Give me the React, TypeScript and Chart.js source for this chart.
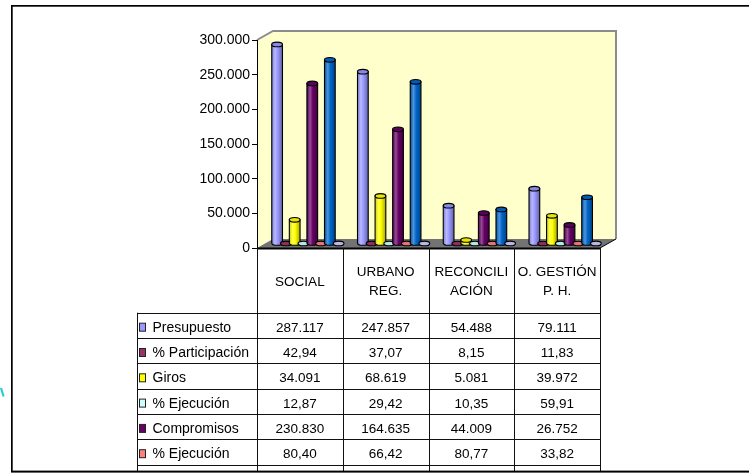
import React, { useEffect, useRef } from 'react';
import { Chart, registerables } from 'chart.js';

Chart.register(...registerables);

// Categories (multi-line header labels of the data table)
const categories: string[][] = [['SOCIAL'], ['URBANO', 'REG.'], ['RECONCILI', 'ACIÓN'], ['O. GESTIÓN', 'P. H.']];

// Series values per category
const presupuesto = [287117, 247857, 54488, 79111];
const participacion = [42.94, 37.07, 8.15, 11.83];
const giros = [34091, 68619, 5081, 39972];
const ejecucionGiros = [12.87, 29.42, 10.35, 59.91];
const compromisos = [230830, 164635, 44009, 26752];
const ejecucionCompromisos = [80.4, 66.42, 80.77, 33.82];
const totalEjecutado = [264921, 233254, 49090, 66724];
const ejecucionTotal = [92.27, 94.11, 90.09, 84.34];

const seriesNames = ['Presupuesto', '% Participación', 'Giros', '% Ejecución', 'Compromisos', '% Ejecución', 'Total Ejecutado', '% Ejecución'];
const seriesValues = [presupuesto, participacion, giros, ejecucionGiros, compromisos, ejecucionCompromisos, totalEjecutado, ejecucionTotal];
const seriesColors = ['#9999FF', '#993366', '#FFFF00', '#CCFFFF', '#660066', '#FF8080', '#0066CC', '#CCCCFF'];
const seriesIsPercent = [false, true, false, true, false, true, false, true];

// Value axis
const yMin = 0;
const yMax = 300000;
const yStep = 50000;

const FONT_FAMILY = 'Arial, "Liberation Sans", sans-serif';
const FONT_SIZE = 13.5;
const FONT = `${FONT_SIZE}px ${FONT_FAMILY}`;
const LABEL_FONT = `14px ${FONT_FAMILY}`;

// 3D depth of the plot box
const DX = 16;
const DY = 9;

const fmtThousands = (v: number) => String(Math.round(v)).replace(/\B(?=(\d{3})+(?!\d))/g, '.');
const fmtPercent = (v: number) => v.toFixed(2).replace('.', ',');

function mix(hex: string, amount: number): string {
  const n = parseInt(hex.slice(1), 16);
  let r = (n >> 16) & 255, g = (n >> 8) & 255, b = n & 255;
  const t = amount > 0 ? 255 : 0;
  const p = Math.abs(amount);
  r = Math.round(r + (t - r) * p);
  g = Math.round(g + (t - g) * p);
  b = Math.round(b + (t - b) * p);
  return `rgb(${r},${g},${b})`;
}

function drawCylinder(ctx: CanvasRenderingContext2D, cx: number, top: number, bottom: number, w: number, color: string) {
  const rx = w / 2;
  const ry = 2.3;
  const left = cx - rx;
  const right = cx + rx;
  ctx.lineWidth = 1.1;
  ctx.strokeStyle = '#000';
  if (bottom - top > 0.6) {
    const g = ctx.createLinearGradient(left, 0, right, 0);
    g.addColorStop(0, mix(color, -0.2));
    g.addColorStop(0.3, mix(color, 0.3));
    g.addColorStop(0.55, color);
    g.addColorStop(1, mix(color, -0.35));
    ctx.beginPath();
    ctx.moveTo(left, top);
    ctx.lineTo(left, bottom);
    ctx.ellipse(cx, bottom, rx, ry, 0, Math.PI, 0, true);
    ctx.lineTo(right, top);
    ctx.closePath();
    ctx.fillStyle = g;
    ctx.fill();
    ctx.stroke();
  }
  ctx.beginPath();
  ctx.ellipse(cx, top, rx, ry, 0, 0, Math.PI * 2);
  ctx.fillStyle = mix(color, -0.1);
  ctx.fill();
  ctx.stroke();
}

const plot3dPlugin = {
  id: 'plot3d',
  beforeDraw(chart: any) {
    const { ctx, chartArea: a } = chart;
    ctx.save();
    ctx.fillStyle = '#fff';
    ctx.fillRect(0, 0, chart.width, chart.height);

    // back wall
    ctx.fillStyle = '#FFFFCC';
    ctx.fillRect(a.left + DX, a.top - DY, a.right - a.left, a.bottom - a.top);
    // side wall
    ctx.beginPath();
    ctx.moveTo(a.left, a.top);
    ctx.lineTo(a.left + DX, a.top - DY);
    ctx.lineTo(a.left + DX, a.bottom - DY);
    ctx.lineTo(a.left, a.bottom);
    ctx.closePath();
    ctx.fill();
    // wall border
    ctx.strokeStyle = '#8c8c8c';
    ctx.lineWidth = 2;
    ctx.beginPath();
    ctx.moveTo(a.left, a.top);
    ctx.lineTo(a.left + DX, a.top - DY);
    ctx.lineTo(a.right + DX, a.top - DY);
    ctx.lineTo(a.right + DX, a.bottom - DY);
    ctx.stroke();

    // floor
    ctx.fillStyle = '#737373';
    ctx.beginPath();
    ctx.moveTo(a.left, a.bottom);
    ctx.lineTo(a.right, a.bottom);
    ctx.lineTo(a.right + DX, a.bottom - DY);
    ctx.lineTo(a.left + DX, a.bottom - DY);
    ctx.closePath();
    ctx.fill();
    ctx.strokeStyle = '#000';
    ctx.lineWidth = 1;
    ctx.beginPath();
    ctx.moveTo(a.right, a.bottom);
    ctx.lineTo(a.right + DX, a.bottom - DY);
    ctx.stroke();
    ctx.restore();
  },
  beforeDatasetsDraw(chart: any) {
    const ctx = chart.ctx as CanvasRenderingContext2D;
    ctx.save();
    chart.data.datasets.forEach((ds: any, i: number) => {
      const meta = chart.getDatasetMeta(i);
      meta.data.forEach((bar: any) => {
        const { x, y, base, width } = bar.getProps(['x', 'y', 'base', 'width'], true);
        drawCylinder(ctx, x + DX / 2, y - DY / 2, base - DY / 2, width * 1.22, ds.backgroundColor);
      });
    });
    ctx.restore();
    return false;
  },
  afterDraw(chart: any) {
    const { ctx, chartArea: a } = chart;
    const xs = chart.scales.x;
    const n = categories.length;
    const catW = (a.right - a.left) / n;
    const bounds: number[] = [];
    for (let i = 0; i < n; i++) bounds.push(xs.getPixelForValue(i) - catW / 2);
    bounds.push(a.right);

    const clipBottom = 471;
    const headerTop = a.bottom;
    const headerBottom = headerTop + 64.7;
    const rowH = 25.3;
    const labelLeft = 137;

    ctx.save();
    ctx.beginPath();
    ctx.rect(0, 0, chart.width, clipBottom);
    ctx.clip();

    // floor front edge
    ctx.strokeStyle = '#000';
    ctx.lineWidth = 2;
    ctx.beginPath();
    ctx.moveTo(a.left, a.bottom + 0.5);
    ctx.lineTo(a.right, a.bottom + 0.5);
    ctx.stroke();

    // grid of the data table
    ctx.lineWidth = 1;
    ctx.strokeStyle = '#111';
    ctx.beginPath();
    bounds.forEach((bx) => {
      const px = Math.round(bx) + 0.5;
      ctx.moveTo(px, headerTop);
      ctx.lineTo(px, clipBottom);
    });
    ctx.moveTo(labelLeft + 0.5, headerBottom);
    ctx.lineTo(labelLeft + 0.5, clipBottom);
    for (let k = 0; k <= seriesNames.length; k++) {
      const py = Math.round(headerBottom + k * rowH) + 0.5;
      ctx.moveTo(labelLeft, py);
      ctx.lineTo(Math.round(a.right) + 1, py);
    }
    ctx.stroke();

    ctx.fillStyle = '#000';
    ctx.font = FONT;
    ctx.textBaseline = 'alphabetic';
    ctx.textAlign = 'center';

    // category headers
    const headerMid = (headerTop + headerBottom) / 2;
    const lineGap = 19.8;
    categories.forEach((lines, i) => {
      const cx = (bounds[i] + bounds[i + 1]) / 2;
      lines.forEach((line, j) => {
        const cy = headerMid + (j - (lines.length - 1) / 2) * lineGap;
        ctx.fillText(line, cx, cy + 5.2);
      });
    });

    // rows: legend key + values
    seriesNames.forEach((name, r) => {
      const top = headerBottom + r * rowH;
      const baseline = top + 18.9;
      ctx.fillStyle = seriesColors[r];
      ctx.fillRect(139.5, top + 10.5, 6, 8);
      ctx.strokeStyle = '#222';
      ctx.lineWidth = 1;
      ctx.strokeRect(139.5, top + 10.5, 6, 8);
      ctx.fillStyle = '#000';
      ctx.font = LABEL_FONT;
      ctx.textAlign = 'left';
      ctx.fillText(name, 152.5, baseline);
      ctx.font = FONT;
      ctx.textAlign = 'center';
      seriesValues[r].forEach((v, i) => {
        const cx = (bounds[i] + bounds[i + 1]) / 2;
        ctx.fillText(seriesIsPercent[r] ? fmtPercent(v) : fmtThousands(v), cx, baseline);
      });
    });
    ctx.restore();

    // outer frame
    ctx.save();
    ctx.fillStyle = '#000';
    ctx.fillRect(11, 5, chart.width - 11, 1.7);
    ctx.fillRect(11, 5, 1.7, 467);
    ctx.fillRect(11, 470.6, chart.width - 11, 2);
    // stray cyan stroke at the left margin
    ctx.strokeStyle = '#33CCCC';
    ctx.lineWidth = 2.2;
    ctx.beginPath();
    ctx.moveTo(1, 388);
    ctx.lineTo(3.6, 396.5);
    ctx.stroke();
    ctx.restore();
  },
};

export default function App() {
  const canvasRef = useRef<HTMLCanvasElement | null>(null);

  useEffect(() => {
    const canvas = canvasRef.current;
    if (!canvas) return;
    Chart.defaults.font.family = FONT_FAMILY;
    const chart = new Chart(canvas, {
      type: 'bar',
      data: {
        labels: categories,
        datasets: seriesNames.map((name, i) => ({
          label: name,
          data: seriesValues[i],
          backgroundColor: seriesColors[i],
        })),
      },
      options: {
        responsive: false,
        animation: false,
        layout: { padding: { left: 0, right: 149, top: 40, bottom: 225 } },
        datasets: { bar: { categoryPercentage: 0.82, barPercentage: 1 } },
        plugins: { legend: { display: false }, tooltip: { enabled: false } },
        scales: {
          x: { display: false },
          y: {
            min: yMin,
            max: yMax,
            afterFit: (scale: any) => {
              scale.width = 257;
            },
            ticks: {
              stepSize: yStep,
              padding: 2,
              color: '#000',
              font: { size: 14, family: FONT_FAMILY },
              callback: (v: any) => fmtThousands(Number(v)),
            },
            grid: { drawOnChartArea: false, tickLength: 5, color: '#000' },
            border: { color: '#000', width: 1 },
          },
        },
      },
      plugins: [plot3dPlugin],
    } as any);
    return () => chart.destroy();
  }, []);

  return (
    <div style={{ position: 'absolute', left: 0, top: 0, width: 749, height: 473 }}>
      <canvas ref={canvasRef} width={749} height={473} style={{ display: 'block' }} />
    </div>
  );
}
